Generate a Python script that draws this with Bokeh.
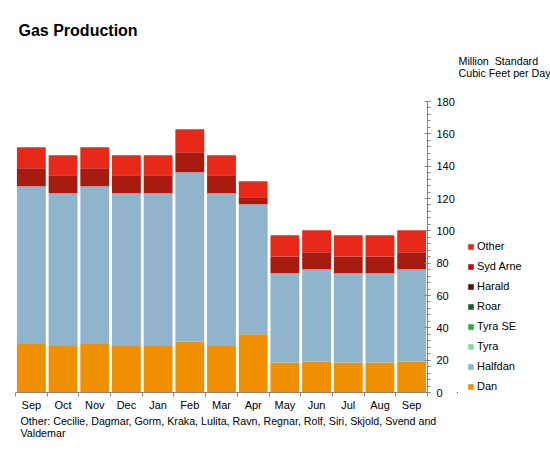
from bokeh.plotting import figure
from bokeh.layouts import row
from bokeh.models import (Range1d, SingleIntervalTicker, FixedTicker, Legend, LegendItem, Title)
from bokeh.embed import file_html
from bokeh.resources import INLINE

months = ["Sep", "Oct", "Nov", "Dec", "Jan", "Feb", "Mar", "Apr", "May", "Jun", "Jul", "Aug", "Sep"]
dan = [30.0, 28.7, 30.0, 28.7, 28.7, 31.6, 28.7, 36.0, 18.6, 19.2, 18.6, 18.6, 19.2]
halfdan = [97.6, 94.5, 97.6, 94.5, 94.5, 104.6, 94.5, 80.4, 55.1, 57.0, 55.1, 55.1, 57.0]
tyra = [0] * 13
tyra_se = [0] * 13
roar = [0] * 13
harald = [0] * 13
syd_arne = [11.1, 11.2, 11.1, 11.2, 11.2, 12.4, 11.2, 4.3, 10.5, 10.5, 10.5, 10.5, 10.5]
other = [13.0, 12.3, 13.0, 12.3, 12.3, 14.2, 12.3, 10.0, 13.0, 13.6, 13.0, 13.0, 13.6]

series = ["Dan", "Halfdan", "Tyra", "Tyra SE", "Roar", "Harald", "Syd Arne", "Other"]
colors = ["#F09000", "#8FB4CB", "#8ED99A", "#2EA845", "#1E5E28", "#5E0F0A", "#A81B10", "#E8291A"]

x = list(range(1, len(months) + 1))
data = {"x": x, "Dan": dan, "Halfdan": halfdan, "Tyra": tyra, "Tyra SE": tyra_se,
        "Roar": roar, "Harald": harald, "Syd Arne": syd_arne, "Other": other}

FONT = "Liberation Sans"
AX = "#868686"

# ---------------- main chart (frame spans 0..427 px) ----------------
n = len(months)
x_start = 0.5 - 15.0 * n / 412.0
W_MAIN = 457

p = figure(width=W_MAIN, height=460, output_backend="svg", toolbar_location=None,
           x_range=Range1d(x_start, n + 0.5), y_range=Range1d(0, 180),
           y_axis_location="right", min_border_left=0, min_border_right=30,
           min_border_top=101, min_border_bottom=68)
p.outline_line_color = None
p.xgrid.visible = False
p.ygrid.visible = False

p.vbar_stack(series, x="x", width=0.91, source=data, color=colors, line_color=None)

ya = p.yaxis[0]
ya.ticker = SingleIntervalTicker(interval=20, num_minor_ticks=5)
ya.axis_line_color = AX
ya.major_tick_line_color = AX
ya.minor_tick_line_color = AX
ya.major_tick_in = 3
ya.major_tick_out = 3
ya.minor_tick_in = 0
ya.minor_tick_out = 3
ya.major_label_standoff = 6
ya.major_label_text_font = FONT
ya.major_label_text_font_size = "11px"
ya.major_label_text_color = "#000000"

xa = p.xaxis[0]
xa.bounds = (0.5, n + 0.5)
xa.ticker = FixedTicker(ticks=x, minor_ticks=[i + 0.5 for i in range(0, n + 1)])
xa.major_label_overrides = {i: m for i, m in zip(x, months)}
xa.axis_line_color = AX
xa.major_tick_line_color = None
xa.major_tick_in = 0
xa.major_tick_out = 0
xa.minor_tick_line_color = AX
xa.minor_tick_in = 0
xa.minor_tick_out = 4
xa.major_label_standoff = 2
xa.major_label_text_font = FONT
xa.major_label_text_font_size = "11px"
xa.major_label_text_color = "#000000"

def ttl(fig, txt, side, off, size="11px", style="normal", standoff=0, valign="bottom", lh=1.2):
    fig.add_layout(Title(text=txt, align="left", offset=off, text_font=FONT,
                         text_font_size=size, text_font_style=style, standoff=standoff,
                         vertical_align=valign, text_line_height=lh,
                         text_color="#000000"), side)

# above: nearest to frame first (two blank rows keep the title's height in place)
ttl(p, "\u00a0", "above", 0, size="11px", standoff=9)
ttl(p, "\u00a0\n\u00a0", "above", 0, lh=1.0)
ttl(p, "Gas Production", "above", 18, "16px", "bold", standoff=28)
# below: after x axis
ttl(p, "Other: Cecilie, Dagmar, Gorm, Kraka, Lulita, Ravn, Regnar, Rolf, Siri, Skjold, Svend and\nValdemar",
    "below", 20, size="10.7px", valign="top", standoff=2, lh=1.05)

# ---------------- side strip: unit text and legend ----------------
q = figure(width=550 - W_MAIN, height=460, output_backend="svg", toolbar_location=None,
           x_range=Range1d(100, 101), y_range=Range1d(1000, 1001),
           x_axis_location=None, y_axis_location=None,
           min_border_left=0, min_border_right=0, min_border_top=101, min_border_bottom=68)
q.outline_line_color = None
q.grid.visible = False
legend_renderers = q.vbar_stack(series, x="x", width=0.91, source=data, color=colors, line_color=None)

items = [LegendItem(label=s, renderers=[r]) for s, r in zip(series, legend_renderers)][::-1]
leg = Legend(items=items, location=(467 - W_MAIN, -4), orientation="vertical",
             glyph_width=7, glyph_height=7, label_standoff=3, spacing=0,
             label_height=20, padding=0, margin=0, border_line_color=None,
             background_fill_alpha=0, label_text_font=FONT, label_text_font_size="11px",
             label_text_color="#000000")
q.add_layout(leg)

# unit text above the strip's frame, same stacking as the main chart
ttl(q, "\u00a0", "above", 0, size="11px", standoff=9)
ttl(q, "Million\u00a0 Standard\nCubic Feet per Day", "above", 1, size="10.7px", lh=1.0)

layout = row(p, q, spacing=0)
open("out.html", "w").write(file_html(layout, INLINE))
